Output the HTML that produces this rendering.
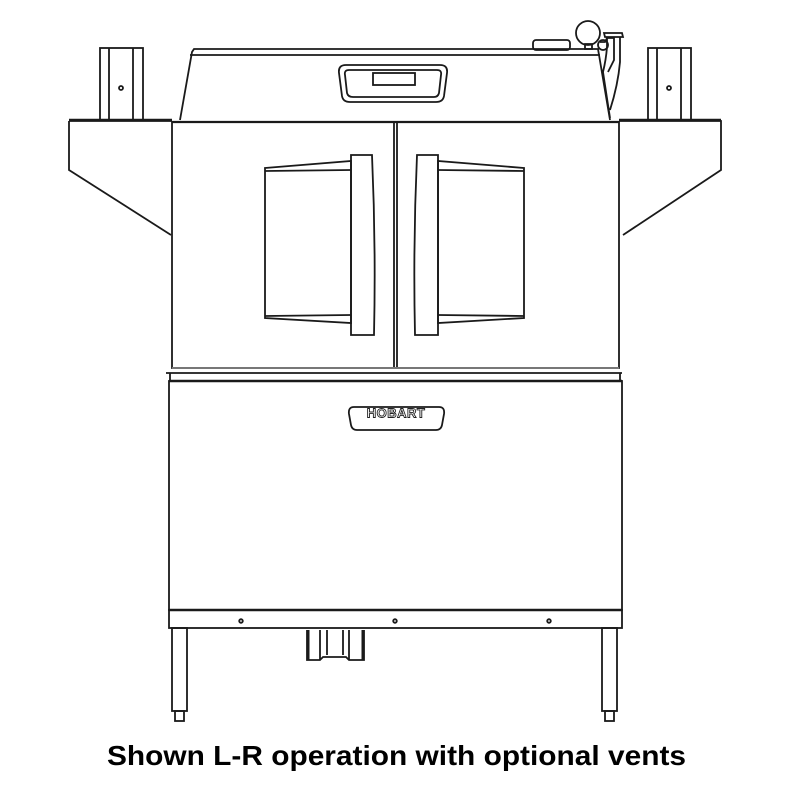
<!DOCTYPE html>
<html><head><meta charset="utf-8"><style>
html,body{margin:0;padding:0;background:#fff;width:791px;height:791px;overflow:hidden}
svg{display:block}
</style></head><body>
<svg width="791" height="791" viewBox="0 0 791 791" xmlns="http://www.w3.org/2000/svg">
<g fill="none" stroke="#1a1a1a" stroke-width="1.8">
<rect x="100" y="48" width="43" height="72"/>
<line x1="109" y1="48" x2="109" y2="120"/><line x1="133" y1="48" x2="133" y2="120"/>
<circle cx="121" cy="88" r="2"/>
<rect x="648" y="48" width="43" height="72"/>
<line x1="657" y1="48" x2="657" y2="120"/><line x1="681" y1="48" x2="681" y2="120"/>
<circle cx="669" cy="88" r="2"/>
<path d="M69 121 L172 121 M69 121 L69 170 L171 235"/>
<path d="M619 121 L721 121 L721 170 L623 235"/>
<line x1="69" y1="120" x2="172" y2="120" stroke-width="2.5"/>
<line x1="619" y1="120" x2="721" y2="120" stroke-width="2.5"/>
<path d="M180 120 L192 52 L194 49 L598 49 L610 120"/>
<line x1="190" y1="55" x2="600" y2="55"/>
<rect x="533" y="40" width="37" height="10" rx="3"/>
<circle cx="588" cy="33" r="12"/>
<rect x="585" y="44" width="7" height="5"/>
<path d="M600 42 L605 42 L607 38 L614 38 L614 60 L608 72"/>
<path d="M604 33 L622 33 L623 37 L605 37 Z"/>
<path d="M607 37 L607 47 M620 37 L620 62 Q618 85 610 110 M607 47 Q606 60 603 72 L610 118"/>
<circle cx="603" cy="45" r="5"/>
<path d="M346 65 L440 65 Q448 65 447 73 L444 96 Q443 102 436 102 L350 102 Q343 102 342 96 L339 73 Q338 65 346 65 Z"/>
<path d="M349 70 L437 70 Q442 70 441 75 L439 93 Q438 97 434 97 L353 97 Q348 97 347 93 L345 75 Q344 70 349 70 Z"/>
<rect x="373" y="73" width="42" height="12"/>
<rect x="172" y="122" width="447" height="246"/>
<line x1="172" y1="122" x2="619" y2="122" stroke-width="2.2"/>
<line x1="394" y1="122" x2="394" y2="368"/><line x1="397" y1="122" x2="397" y2="368"/>
<path d="M265 168 L351 161 L351 323 L265 318 Z"/>
<line x1="265" y1="171" x2="351" y2="170"/><line x1="265" y1="316" x2="351" y2="315"/>
<path d="M351 155 L372 155 Q376 245 374 335 L351 335 Z"/>
<path d="M524 168 L438 161 L438 323 L524 318 Z"/>
<line x1="524" y1="171" x2="438" y2="170"/><line x1="524" y1="316" x2="438" y2="315"/>
<path d="M438 155 L417 155 Q413 245 415 335 L438 335 Z"/>
<line x1="172" y1="368" x2="619" y2="368" stroke="#777" stroke-width="2"/>
<line x1="166" y1="373" x2="622" y2="373"/>
<line x1="170" y1="373" x2="170" y2="380"/><line x1="620" y1="373" x2="620" y2="380"/>
<rect x="169" y="381" width="453" height="229"/>
<line x1="169" y1="381" x2="622" y2="381" stroke-width="2.5"/>
<path d="M354 407 L439 407 Q445 407 444 414 L442 425 Q441 430 436 430 L357 430 Q352 430 351 425 L349 414 Q348 407 354 407 Z"/>
<rect x="169" y="610" width="453" height="18"/>
<line x1="169" y1="610" x2="622" y2="610" stroke-width="2.5"/>
<circle cx="241" cy="621" r="1.8"/><circle cx="395" cy="621" r="1.8"/><circle cx="549" cy="621" r="1.8"/>
<rect x="172" y="628" width="15" height="83"/>
<rect x="175" y="711" width="9" height="10"/>
<rect x="602" y="628" width="15" height="83"/>
<rect x="605" y="711" width="9" height="10"/>
<path d="M307 630 L307 660 L320 660 L323 657 L346 657 L349 660 L364 660 L364 630"/>
<line x1="320" y1="630" x2="320" y2="660"/><line x1="349" y1="630" x2="349" y2="660"/>
<line x1="327" y1="630" x2="327" y2="655"/><line x1="343" y1="630" x2="343" y2="655"/>
<line x1="308" y1="630" x2="308" y2="660" stroke-width="3"/><line x1="363" y1="630" x2="363" y2="660" stroke-width="3"/>
</g>
<text x="396" y="414" font-family="Liberation Sans, sans-serif" font-size="13" font-weight="bold" text-anchor="middle" dominant-baseline="middle" fill="#fff" stroke="#222" stroke-width="0.9" letter-spacing="0.5">HOBART</text>
<text x="107" y="765" textLength="579" lengthAdjust="spacingAndGlyphs" font-family="Liberation Sans, sans-serif" font-size="28" font-weight="bold" fill="#000">Shown L-R operation with optional vents</text>
</svg>
</body></html>
